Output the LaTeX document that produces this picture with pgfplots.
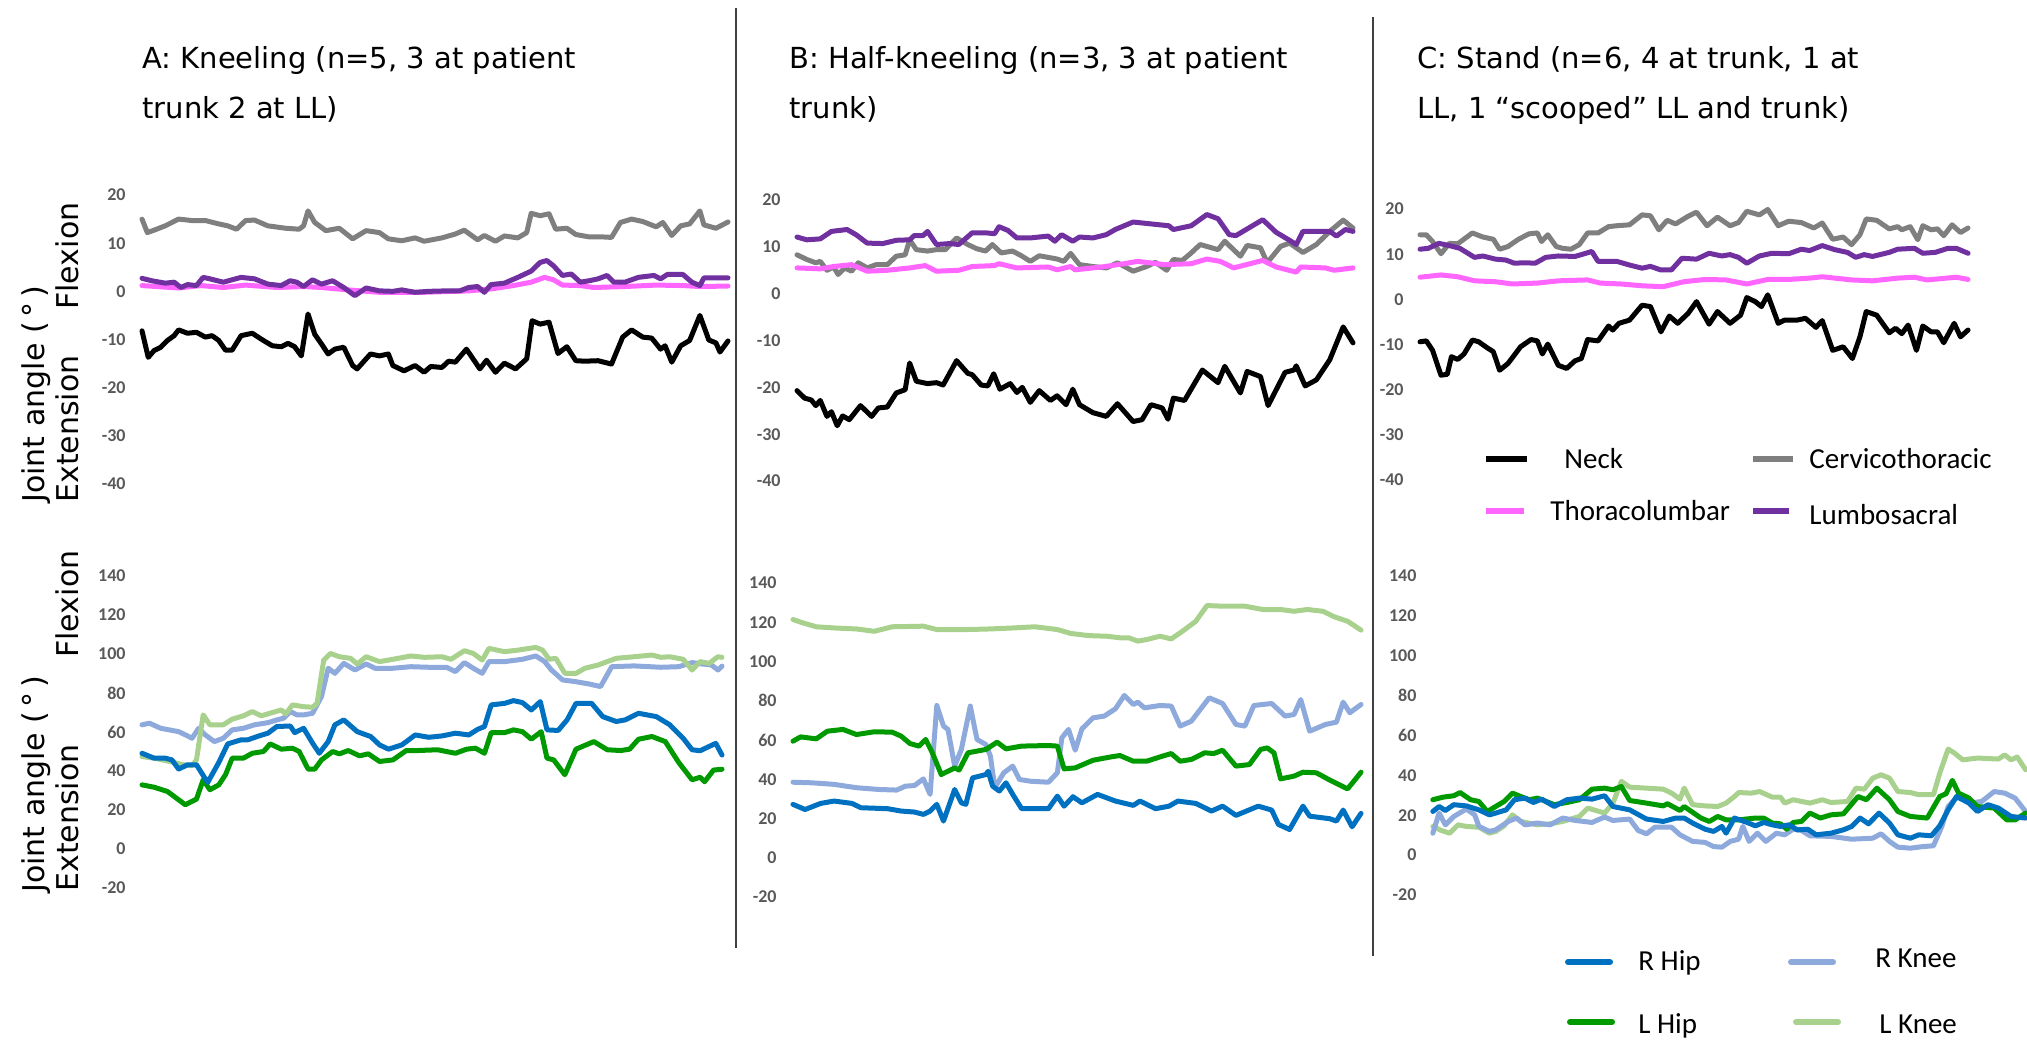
\documentclass[border=0pt]{standalone}
\usepackage{fontspec}
\usepackage{pgfplots}
\pgfplotsset{compat=1.18}
\setmainfont{DejaVu Sans}
\newfontfamily\calibri{Carlito}
\definecolor{tickgray}{HTML}{595959}
\definecolor{sepgray}{HTML}{404040}
\definecolor{neck}{HTML}{000000}
\definecolor{cerv}{HTML}{7F7F7F}
\definecolor{thor}{HTML}{FF66FF}
\definecolor{lumb}{HTML}{7030A0}
\definecolor{rhip}{HTML}{0070C0}
\definecolor{rknee}{HTML}{8EA9DB}
\definecolor{lhip}{HTML}{009900}
\definecolor{lknee}{HTML}{A9D18E}
\newcommand\titlefont{\fontsize{14.5}{16}\selectfont}
\newcommand\labfont{\fontsize{15}{17}\selectfont}
\newcommand\legfont{\calibri\fontsize{14.5}{16}\selectfont}
\pgfplotsset{
 panel/.style={scale only axis, anchor=south west, enlargelimits=false,
  axis x line=none, axis y line*=left, y axis line style={draw=none},
  major tick length=0pt, clip=false,
  yticklabel style={font=\calibri\bfseries\fontsize{9}{10}\selectfont, text=tickgray, anchor=east, inner sep=0pt, xshift=-8pt},
  every axis plot/.append style={line width=2.5pt, line join=round, line cap=round, mark=none}},
 toppanel/.style={ymin=-40,ymax=20,ytick={-40,-30,-20,-10,0,10,20}, yticklabels={-40,-30,-20,-10,0,10,20}},
 botpanel/.style={ymin=-20,ymax=140,ytick={-20,0,20,40,60,80,100,120,140}, yticklabels={-20,0,20,40,60,80,100,120,140}},
}
\begin{document}
\begin{tikzpicture}
\path[use as bounding box] (0,0) rectangle (1013.5pt,-520pt);

% ---------- A top ----------
\begin{axis}[panel, toppanel, at={(71pt,-242pt)}, width=293pt, height=144.5pt, xmin=318, xmax=1631]
\addplot[cerv] coordinates {(318,15.0)(330,12.2)(345,12.7)(370,13.6)(400,15.0)(430,14.7)(460,14.7)(490,14.0)(510,13.6)(530,12.9)(550,14.7)(570,14.8)(600,13.6)(640,13.1)(670,12.9)(680,13.6)(690,16.7)(705,14.3)(730,12.6)(760,13.1)(790,10.9)(820,12.6)(850,12.2)(870,10.9)(900,10.5)(930,11.1)(950,10.4)(990,11.1)(1020,11.9)(1040,12.7)(1070,10.7)(1085,11.6)(1110,10.4)(1130,11.5)(1160,11.1)(1180,12.2)(1190,16.2)(1210,15.7)(1230,16.1)(1245,12.9)(1270,13.1)(1290,11.8)(1320,11.3)(1350,11.3)(1370,11.2)(1390,14.3)(1415,15.0)(1440,14.5)(1470,13.4)(1485,14.3)(1505,11.6)(1525,13.6)(1545,14.0)(1568,16.7)(1577,13.8)(1604,13.1)(1631,14.4)};
\addplot[thor] coordinates {(318,1.2)(400,0.7)(450,1.2)(500,0.8)(550,1.3)(620,0.8)(680,1.0)(720,0.8)(780,0.3)(850,-0.2)(950,-0.2)(1050,0.1)(1100,0.5)(1150,1.2)(1190,1.9)(1220,2.9)(1240,2.4)(1260,1.3)(1300,1.2)(1330,0.8)(1400,1.0)(1470,1.3)(1530,1.2)(1568,1.0)(1631,1.1)};
\addplot[lumb] coordinates {(318,2.7)(340,2.2)(370,1.7)(390,1.9)(405,0.8)(420,1.4)(440,1.2)(455,2.9)(470,2.6)(500,1.9)(540,2.9)(570,2.6)(600,1.5)(630,1.2)(650,2.2)(665,1.9)(680,1.0)(700,2.4)(720,1.5)(745,2.2)(770,0.8)(795,-0.9)(820,0.7)(850,0.1)(880,0)(900,0.3)(930,-0.2)(960,0)(1000,0.1)(1030,0.1)(1050,0.8)(1070,1.0)(1085,-0.2)(1100,1.4)(1130,1.7)(1160,2.9)(1190,4.2)(1210,6.0)(1225,6.4)(1240,5.3)(1260,3.3)(1280,3.6)(1300,1.9)(1320,2.2)(1340,2.6)(1360,3.3)(1375,1.9)(1400,1.9)(1430,2.9)(1465,3.3)(1480,2.6)(1495,3.5)(1530,3.5)(1550,1.9)(1568,1.2)(1577,2.8)(1631,2.8)};
\addplot[neck] coordinates {(318,-8.2)(332,-13.7)(345,-12.3)(360,-11.6)(375,-10.2)(390,-9.2)(400,-8.0)(420,-8.7)(440,-8.5)(460,-9.5)(475,-9.2)(490,-10.2)(505,-12.2)(520,-12.2)(540,-9.2)(565,-8.7)(590,-10.2)(610,-11.3)(630,-11.5)(645,-10.8)(660,-11.5)(675,-13.4)(690,-4.7)(705,-8.9)(720,-10.9)(735,-13.0)(750,-12.0)(770,-11.6)(790,-15.4)(800,-16.1)(830,-13.0)(850,-13.4)(870,-13.0)(880,-15.4)(905,-16.5)(930,-15.4)(950,-16.8)(965,-15.6)(990,-15.8)(1005,-14.5)(1020,-14.7)(1045,-12.0)(1075,-16.1)(1090,-14.3)(1110,-16.8)(1130,-14.9)(1155,-16.1)(1180,-14.0)(1192,-6.1)(1210,-6.8)(1230,-6.4)(1250,-12.9)(1270,-11.5)(1290,-14.4)(1310,-14.5)(1340,-14.4)(1370,-15.1)(1395,-9.5)(1415,-8.0)(1440,-9.5)(1460,-9.7)(1480,-12.0)(1490,-11.3)(1505,-14.7)(1525,-11.3)(1545,-10.2)(1568,-5.0)(1588,-10.1)(1604,-10.7)(1613,-12.6)(1631,-10.3)};
\end{axis}

% ---------- B top ----------
\begin{axis}[panel, toppanel, at={(398.5pt,-240.5pt)}, width=278pt, height=140.5pt, xmin=218, xmax=1462]
\addplot[cerv] coordinates {(218,8.3)(240,7.3)(260,6.6)(270,6.9)(285,5.0)(300,5.7)(310,4.1)(325,5.5)(340,4.8)(355,6.6)(375,5.5)(395,6.2)(420,6.2)(440,8.0)(460,8.3)(470,11.5)(485,9.4)(510,9.1)(530,9.4)(550,9.4)(575,11.9)(600,10.5)(620,9.6)(640,9.1)(655,10.5)(675,8.7)(700,9.1)(720,8.1)(740,6.9)(760,8.1)(800,7.4)(815,6.9)(830,8.6)(850,6.2)(880,5.8)(910,5.5)(935,6.6)(970,4.8)(1000,5.8)(1020,6.7)(1045,5.0)(1060,7.3)(1080,7.1)(1100,8.7)(1120,10.5)(1160,9.4)(1175,11.2)(1210,8.0)(1225,10.3)(1255,9.8)(1270,6.6)(1300,10.1)(1320,10.8)(1350,8.8)(1380,10.5)(1410,13.3)(1440,15.7)(1462,14.0)};
\addplot[thor] coordinates {(218,5.5)(270,5.3)(300,5.8)(340,6.2)(375,4.8)(420,5.0)(470,5.5)(505,6.0)(530,4.8)(580,5.0)(610,5.8)(660,6.0)(670,6.4)(710,5.5)(780,5.7)(800,5.1)(830,5.8)(840,5.1)(900,5.7)(950,6.4)(980,6.9)(1040,6.2)(1100,6.4)(1135,7.4)(1165,6.9)(1195,5.5)(1260,7.1)(1290,5.7)(1335,4.6)(1345,5.7)(1400,5.5)(1420,5.0)(1462,5.5)};
\addplot[lumb] coordinates {(218,12.1)(240,11.5)(270,11.7)(295,13.3)(330,13.7)(350,12.6)(375,10.8)(410,10.7)(440,11.4)(470,11.5)(480,12.4)(500,12.4)(510,13.3)(530,10.5)(560,10.7)(580,10.5)(610,13.0)(640,13.0)(660,12.8)(670,14.3)(690,13.5)(710,11.9)(740,11.9)(780,12.3)(795,11.2)(810,12.6)(835,11.2)(850,12.1)(880,11.9)(910,12.6)(930,13.7)(970,15.3)(1000,15.0)(1050,14.5)(1060,13.7)(1100,14.5)(1135,16.9)(1160,16.0)(1185,12.6)(1200,12.4)(1260,15.8)(1290,13.1)(1320,11.4)(1335,10.5)(1350,13.3)(1410,13.3)(1425,12.3)(1445,13.7)(1462,13.3)};
\addplot[neck] coordinates {(218,-20.7)(235,-22.3)(250,-22.7)(260,-23.9)(270,-22.8)(285,-26.2)(295,-25.2)(308,-28.2)(320,-26.1)(335,-26.9)(360,-23.9)(385,-26.2)(400,-24.4)(420,-24.2)(440,-21.2)(460,-20.5)(470,-14.8)(485,-18.7)(510,-19.2)(530,-19.0)(545,-19.5)(575,-14.3)(600,-17.0)(610,-17.3)(630,-19.5)(645,-19.7)(658,-17.1)(672,-20.4)(695,-19.2)(710,-21.1)(722,-20.0)(740,-23.2)(760,-20.7)(785,-22.8)(800,-21.8)(820,-23.7)(835,-20.4)(850,-23.7)(880,-25.4)(910,-26.2)(935,-23.5)(970,-27.3)(990,-26.9)(1010,-23.7)(1035,-24.4)(1048,-26.8)(1060,-22.3)(1085,-22.8)(1125,-16.3)(1160,-19.0)(1175,-15.5)(1210,-21.2)(1225,-16.6)(1255,-17.7)(1272,-23.9)(1310,-16.8)(1330,-16.3)(1335,-15.4)(1355,-19.7)(1380,-18.4)(1410,-14.1)(1440,-7.1)(1462,-10.5)};
\end{axis}

% ---------- C top ----------
\begin{axis}[panel, toppanel, at={(710pt,-240pt)}, width=274pt, height=135.5pt, xmin=120, xmax=1428]
\addplot[cerv] coordinates {(120,14.3)(135,14.3)(150,12.8)(170,10.1)(190,12.4)(210,12.3)(245,14.7)(270,13.8)(295,13.3)(310,11.1)(330,11.7)(355,13.3)(380,14.5)(400,14.7)(410,12.8)(425,14.3)(445,11.7)(460,11.3)(480,11.1)(500,12.1)(520,14.7)(545,14.7)(570,16.1)(590,16.3)(620,16.5)(650,18.7)(670,18.5)(690,15.4)(710,17.5)(730,16.7)(760,18.4)(780,19.3)(805,16.3)(830,18.2)(860,16.3)(880,17.0)(900,19.5)(930,18.7)(950,19.9)(975,16.3)(1000,17.3)(1030,17.0)(1060,15.8)(1080,16.9)(1105,13.3)(1130,13.8)(1150,12.1)(1170,14.3)(1185,17.8)(1210,17.5)(1240,15.6)(1260,16.1)(1270,15.4)(1290,16.1)(1308,13.2)(1320,16.3)(1340,15.4)(1355,15.6)(1370,14.1)(1390,16.5)(1410,14.8)(1428,15.8)};
\addplot[thor] coordinates {(120,4.9)(170,5.4)(210,5.0)(250,4.1)(300,3.9)(340,3.4)(400,3.6)(450,4.1)(520,4.3)(550,3.6)(600,3.4)(650,3.0)(700,2.8)(750,3.9)(800,4.4)(850,4.3)(900,3.4)(950,4.4)(1000,4.4)(1050,4.7)(1080,5.0)(1150,4.3)(1200,4.1)(1260,4.7)(1300,4.9)(1330,4.3)(1400,4.9)(1428,4.4)};
\addplot[lumb] coordinates {(120,11.1)(140,11.3)(165,12.4)(190,11.9)(215,11.3)(250,9.3)(270,9.6)(300,8.9)(325,8.7)(345,8.0)(370,8.1)(395,8.0)(420,9.3)(450,9.6)(490,9.5)(505,9.9)(530,10.6)(545,8.4)(590,8.4)(620,7.6)(650,6.9)(670,7.3)(695,6.5)(720,6.5)(745,9.1)(780,8.9)(810,10.2)(840,9.6)(860,9.9)(880,9.3)(900,8.0)(930,9.6)(960,10.2)(1000,10.1)(1030,11.1)(1050,10.8)(1080,11.9)(1110,11.0)(1140,10.4)(1160,9.3)(1180,9.9)(1200,9.5)(1240,10.4)(1260,11.1)(1300,11.3)(1320,10.2)(1350,10.4)(1380,11.3)(1400,11.3)(1428,10.2)};
\addplot[neck] coordinates {(120,-9.4)(135,-9.2)(150,-11.3)(170,-16.8)(185,-16.6)(195,-12.7)(210,-13.3)(225,-12.1)(245,-9.0)(260,-9.4)(280,-10.7)(295,-11.6)(310,-15.7)(330,-14.2)(360,-10.5)(385,-8.9)(400,-9.2)(412,-12.1)(425,-9.9)(450,-14.6)(470,-15.3)(490,-13.6)(505,-13.1)(520,-8.9)(545,-9.2)(570,-5.9)(580,-6.8)(595,-5.3)(620,-4.6)(650,-1.3)(670,-1.6)(695,-7.2)(715,-3.7)(735,-5.3)(760,-3.1)(780,-0.5)(810,-5.5)(830,-2.7)(860,-5.3)(885,-3.5)(900,0.4)(920,-0.5)(935,-1.6)(950,1.0)(975,-5.3)(990,-4.6)(1020,-4.6)(1040,-4.2)(1065,-6.2)(1080,-4.7)(1105,-11.3)(1130,-10.5)(1152,-13.1)(1170,-8.3)(1185,-2.7)(1210,-3.5)(1240,-7.4)(1255,-6.4)(1270,-7.6)(1285,-5.7)(1305,-11.3)(1320,-5.9)(1340,-7.2)(1355,-7.2)(1370,-9.6)(1395,-5.3)(1410,-8.3)(1428,-6.8)};
\end{axis}

% ---------- A bottom ----------
\begin{axis}[panel, botpanel, at={(71pt,-444pt)}, width=290pt, height=156pt, xmin=318, xmax=1617]
\addplot[rknee] coordinates {(318,63.7)(335,64.5)(360,61.9)(400,60.2)(420,58.0)(430,56.8)(445,61.9)(460,58.5)(480,55.1)(500,56.8)(520,61.1)(545,61.9)(570,63.7)(600,64.8)(620,66.2)(635,67.1)(650,70.5)(665,68.8)(680,68.8)(700,69.6)(720,78.2)(735,92.7)(750,90.1)(770,95.2)(795,91.8)(820,94.9)(840,92.7)(880,92.7)(920,93.5)(960,93.2)(1000,93.2)(1020,91.0)(1040,95.6)(1060,92.7)(1080,90.1)(1095,96.1)(1130,96.1)(1170,97.3)(1200,99.0)(1220,96.1)(1235,91.8)(1260,86.7)(1290,85.8)(1320,84.6)(1345,83.3)(1370,93.5)(1420,93.9)(1480,93.2)(1520,93.5)(1550,95.6)(1568,95.0)(1593,94.4)(1608,91.8)(1617,93.8)};
\addplot[lknee] coordinates {(318,47.4)(345,46.6)(380,44.9)(410,43.2)(430,42.7)(440,45.7)(455,68.8)(470,63.7)(500,63.7)(520,66.6)(545,68.3)(565,70.5)(585,68.3)(610,70.0)(630,71.3)(640,69.3)(655,73.9)(680,73.0)(700,72.7)(710,74.7)(725,96.9)(740,100.3)(760,98.6)(785,97.8)(800,94.9)(820,98.6)(850,96.1)(880,97.3)(920,99.0)(950,98.3)(990,98.6)(1010,97.3)(1040,101.7)(1060,100.3)(1080,96.9)(1095,102.9)(1130,101.2)(1160,102.0)(1200,103.4)(1215,102.0)(1230,97.3)(1245,97.8)(1265,90.1)(1290,90.1)(1310,92.7)(1340,94.4)(1380,97.8)(1420,98.6)(1460,99.5)(1480,98.3)(1500,98.6)(1530,97.3)(1550,91.8)(1568,96.1)(1588,95.2)(1608,98.6)(1617,98.3)};
\addplot[lhip] coordinates {(318,32.9)(345,31.7)(375,29.5)(395,26.1)(415,22.7)(440,25.6)(455,35.5)(470,30.4)(490,32.9)(505,38.1)(520,46.6)(545,46.6)(565,49.1)(590,50.0)(605,53.9)(630,51.2)(655,51.7)(670,50.0)(690,41.0)(705,41.0)(720,45.7)(745,50.0)(760,48.8)(780,50.5)(805,47.8)(825,48.8)(850,44.9)(880,45.7)(910,50.5)(935,50.5)(980,50.9)(1020,49.1)(1045,51.2)(1065,51.7)(1085,49.1)(1100,59.7)(1130,59.7)(1150,61.1)(1170,60.2)(1190,56.3)(1212,60.2)(1225,46.6)(1240,45.7)(1265,38.1)(1290,51.2)(1330,55.1)(1360,50.9)(1390,50.5)(1410,51.2)(1430,56.3)(1460,57.7)(1490,55.1)(1520,44.4)(1550,35.5)(1568,36.8)(1578,34.5)(1598,40.5)(1617,40.9)};
\addplot[rhip] coordinates {(318,49.1)(345,46.6)(370,46.6)(385,45.7)(400,41.0)(420,43.2)(440,43.2)(465,34.1)(490,44.4)(510,53.9)(540,56.0)(555,56.0)(580,58.0)(600,59.4)(620,62.8)(650,63.1)(660,59.7)(680,61.9)(700,54.3)(715,49.1)(735,55.1)(750,63.7)(770,66.2)(800,60.2)(830,57.7)(850,53.4)(870,51.2)(900,53.4)(930,58.5)(960,57.3)(990,58.0)(1020,59.4)(1050,58.5)(1070,61.4)(1085,62.8)(1100,73.9)(1130,74.7)(1150,76.1)(1170,75.1)(1190,71.3)(1210,75.6)(1225,61.1)(1250,60.8)(1270,66.2)(1290,74.7)(1325,74.7)(1350,67.9)(1380,65.4)(1400,66.2)(1430,69.6)(1470,67.9)(1500,63.7)(1530,56.8)(1550,50.9)(1568,50.4)(1603,54.2)(1617,48.2)};
\end{axis}

% ---------- B bottom ----------
\begin{axis}[panel, botpanel, at={(396.5pt,-448.5pt)}, width=284pt, height=157pt, xmin=208, xmax=1480]
\addplot[lknee] coordinates {(208,121.4)(230,119.7)(260,117.7)(300,117.1)(350,116.6)(390,115.4)(430,117.7)(500,118.0)(530,116.3)(600,116.3)(650,116.6)(700,117.1)(750,117.7)(800,116.3)(830,114.3)(870,113.2)(910,112.9)(940,112.1)(960,112.1)(980,110.4)(1000,111.2)(1030,112.9)(1055,111.5)(1080,115.4)(1110,120.5)(1135,128.5)(1170,128.2)(1220,128.2)(1260,126.5)(1300,126.5)(1330,125.6)(1360,126.5)(1395,125.6)(1420,122.8)(1450,120.5)(1480,116.0)};
\addplot[rknee] coordinates {(208,38.5)(250,38.2)(300,37.4)(350,35.7)(400,34.8)(440,34.5)(460,36.5)(480,36.8)(500,40.2)(515,32.3)(530,77.6)(545,67.1)(555,65.4)(570,46.7)(585,55.2)(605,77.3)(620,60.3)(640,57.7)(650,51.8)(660,35.7)(680,43.3)(700,46.7)(715,39.9)(740,39.0)(780,38.5)(800,43.3)(810,61.1)(825,65.4)(840,54.8)(855,65.7)(880,71.3)(905,72.2)(930,75.9)(950,82.7)(970,78.1)(980,79.3)(995,76.4)(1030,77.6)(1055,77.3)(1075,67.1)(1100,69.6)(1140,81.5)(1170,78.6)(1200,67.9)(1220,67.1)(1240,77.6)(1280,78.6)(1310,72.2)(1330,73.0)(1345,80.6)(1365,64.5)(1400,67.9)(1425,69.1)(1440,79.3)(1455,73.9)(1480,78.1)};
\addplot[lhip] coordinates {(208,59.4)(225,61.6)(260,60.6)(285,64.5)(320,65.4)(350,62.8)(390,64.2)(430,64.0)(450,62.0)(470,58.2)(490,56.9)(505,60.3)(520,53.5)(540,42.4)(570,45.8)(580,44.7)(600,53.5)(640,55.2)(665,58.9)(685,55.5)(720,56.9)(780,57.2)(800,56.9)(815,45.3)(840,45.8)(880,49.7)(920,51.4)(940,52.1)(970,49.2)(1000,49.2)(1030,51.4)(1055,53.1)(1075,49.2)(1100,50.1)(1130,53.5)(1150,53.1)(1170,54.8)(1200,46.7)(1230,47.5)(1255,55.2)(1270,56.0)(1285,53.5)(1300,40.2)(1330,41.6)(1350,43.6)(1380,43.3)(1410,39.6)(1450,35.1)(1480,43.6)};
\addplot[rhip] coordinates {(208,27.2)(235,24.6)(270,27.7)(300,28.9)(340,27.7)(360,25.5)(420,25.0)(450,23.8)(480,23.3)(500,22.1)(515,23.8)(530,27.2)(545,18.7)(570,34.8)(585,28.0)(595,27.2)(610,40.7)(640,42.4)(645,44.1)(655,36.5)(670,34.0)(685,38.2)(700,32.3)(720,25.0)(780,25.0)(800,31.4)(815,26.3)(835,31.1)(855,28.0)(890,32.3)(930,28.9)(970,26.7)(985,28.9)(1020,25.0)(1050,26.3)(1070,28.9)(1110,27.7)(1145,23.8)(1170,26.3)(1200,21.6)(1250,26.3)(1280,24.3)(1295,17.0)(1320,14.4)(1350,26.3)(1365,21.2)(1410,19.9)(1425,18.7)(1440,24.3)(1460,15.8)(1480,22.6)};
\end{axis}

% ---------- C bottom ----------
\begin{axis}[panel, botpanel, at={(716.4pt,-447.5pt)}, width=296.4pt, height=159.5pt, xmin=150, xmax=1565]
\addplot[lknee] coordinates {(150,14.4)(170,12.4)(190,11.0)(210,15.2)(230,14.4)(260,14.0)(285,11.0)(300,11.9)(320,14.7)(340,20.2)(360,16.9)(400,15.2)(430,15.7)(460,16.9)(500,19.4)(520,23.6)(560,21.1)(580,26.1)(600,37.0)(620,34.1)(660,33.6)(700,33.1)(720,31.1)(740,28.1)(750,33.6)(770,25.3)(800,24.7)(830,24.4)(850,26.1)(870,29.4)(880,31.4)(910,31.1)(930,31.9)(960,29.1)(980,29.1)(990,26.1)(1010,27.8)(1050,26.1)(1080,27.8)(1100,26.4)(1140,26.9)(1160,33.6)(1180,33.1)(1200,38.6)(1220,40.3)(1240,38.6)(1260,31.9)(1290,31.4)(1310,30.3)(1345,30.3)(1360,41.1)(1380,53.2)(1395,51.2)(1415,47.8)(1450,48.7)(1500,48.2)(1515,50.3)(1530,47.8)(1545,49.2)(1565,42.8)};
\addplot[rknee] coordinates {(150,11.0)(165,21.1)(180,15.2)(200,19.4)(230,23.1)(250,20.2)(260,14.4)(285,11.9)(300,12.7)(330,16.9)(350,18.6)(370,15.2)(400,16.1)(430,15.2)(460,18.6)(490,17.4)(530,16.4)(560,19.1)(580,17.4)(620,18.1)(640,12.4)(660,10.7)(680,14.0)(720,14.0)(740,10.2)(770,6.9)(800,6.4)(820,4.3)(840,4.0)(860,6.9)(880,8.0)(890,14.4)(905,6.9)(925,11.0)(945,6.9)(970,11.0)(990,10.2)(1010,13.0)(1030,12.4)(1050,9.7)(1100,9.4)(1150,8.0)(1200,8.5)(1220,10.7)(1240,6.9)(1260,4.0)(1290,3.5)(1320,4.3)(1345,4.7)(1365,14.4)(1380,24.4)(1405,29.8)(1430,26.1)(1460,26.9)(1490,31.9)(1515,31.1)(1540,28.6)(1565,21.9)};
\addplot[lhip] coordinates {(150,27.8)(175,29.1)(200,29.8)(215,31.4)(240,27.8)(260,26.9)(280,21.9)(300,24.4)(320,26.9)(340,31.1)(360,29.4)(380,27.8)(400,28.6)(440,25.3)(470,26.4)(500,27.8)(530,33.1)(560,33.6)(580,32.8)(600,34.4)(620,27.4)(660,26.1)(700,24.7)(710,25.8)(740,22.4)(750,24.4)(790,18.6)(810,16.9)(830,19.4)(850,17.7)(880,17.7)(920,18.6)(940,18.6)(960,16.1)(980,15.7)(995,13.0)(1010,16.4)(1030,16.9)(1050,21.1)(1075,18.6)(1100,20.2)(1130,20.7)(1145,24.4)(1165,29.4)(1185,27.8)(1210,33.6)(1240,27.8)(1260,21.9)(1290,19.4)(1330,18.6)(1360,29.4)(1375,30.8)(1390,37.5)(1405,31.1)(1430,28.6)(1450,24.4)(1490,23.6)(1520,17.7)(1540,17.7)(1565,21.1)};
\addplot[rhip] coordinates {(150,21.9)(165,24.4)(180,22.4)(200,25.3)(230,24.7)(260,22.7)(285,20.2)(300,21.1)(325,22.7)(345,27.8)(370,28.6)(390,26.4)(410,28.1)(440,24.4)(470,27.8)(500,28.6)(530,28.1)(560,29.8)(580,24.4)(620,22.7)(660,18.1)(700,16.9)(730,18.6)(750,18.6)(770,16.1)(800,13.0)(820,11.9)(840,14.4)(850,11.0)(870,18.6)(900,16.4)(920,14.7)(940,16.4)(960,15.2)(980,14.4)(1000,15.2)(1020,12.7)(1045,13.0)(1065,10.2)(1100,11.0)(1130,12.7)(1150,14.4)(1170,18.6)(1190,15.7)(1215,21.1)(1240,16.1)(1260,10.2)(1290,8.5)(1310,10.2)(1340,9.7)(1360,14.7)(1380,22.7)(1400,29.4)(1430,26.1)(1450,21.9)(1475,25.3)(1500,23.6)(1530,19.4)(1565,18.6)};
\end{axis}

% ---------- separators ----------
\draw[line width=1pt, sepgray] (368pt,-4pt) -- (368pt,-474pt);
\draw[line width=1pt, sepgray] (686.5pt,-8.5pt) -- (686.5pt,-478pt);

% ---------- titles ----------
\node[anchor=base west, font=\titlefont, inner sep=0pt] at (71pt,-34pt) {A: Kneeling (n=5, 3 at patient};
\node[anchor=base west, font=\titlefont, inner sep=0pt] at (71pt,-59pt) {trunk 2 at LL)};
\node[anchor=base west, font=\titlefont, inner sep=0pt] at (394.5pt,-34pt) {B: Half-kneeling (n=3, 3 at patient};
\node[anchor=base west, font=\titlefont, inner sep=0pt] at (394.5pt,-59pt) {trunk)};
\node[anchor=base west, font=\titlefont, inner sep=0pt] at (708.5pt,-34pt) {C: Stand (n=6, 4 at trunk, 1 at};
\node[anchor=base west, font=\titlefont, inner sep=0pt] at (708.5pt,-59pt) {LL, 1 “scooped” LL and trunk)};

% ---------- y labels ----------
\node[rotate=90, anchor=base west, font=\labfont, inner sep=0pt] at (22pt,-251.5pt) {Joint angle (\,°\,)};
\node[rotate=90, anchor=base west, font=\labfont, inner sep=0pt] at (39pt,-251.5pt) {Extension};
\node[rotate=90, anchor=base west, font=\labfont, inner sep=0pt] at (39pt,-155pt) {Flexion};
\node[rotate=90, anchor=base west, font=\labfont, inner sep=0pt] at (22pt,-446.5pt) {Joint angle (\,°\,)};
\node[rotate=90, anchor=base west, font=\labfont, inner sep=0pt] at (39pt,-446pt) {Extension};
\node[rotate=90, anchor=base west, font=\labfont, inner sep=0pt] at (39pt,-329pt) {Flexion};

% ---------- legends ----------
\draw[line width=3pt, neck] (743pt,-229.5pt) -- (763.5pt,-229.5pt);
\node[anchor=base west, font=\legfont, inner sep=0pt] at (782pt,-234pt) {Neck};
\draw[line width=3pt, cerv] (876.5pt,-229.5pt) -- (896.5pt,-229.5pt);
\node[anchor=base west, font=\legfont, inner sep=0pt] at (904.5pt,-234pt) {Cervicothoracic};
\draw[line width=3pt, thor] (743pt,-255.5pt) -- (762pt,-255.5pt);
\node[anchor=base west, font=\legfont, inner sep=0pt] at (775pt,-260pt) {Thoracolumbar};
\draw[line width=3pt, lumb] (876.5pt,-255.5pt) -- (894.5pt,-255.5pt);
\node[anchor=base west, font=\legfont, inner sep=0pt] at (904.5pt,-262pt) {Lumbosacral};

\draw[line width=3pt, rhip, line cap=round] (784pt,-481pt) -- (805pt,-481pt);
\node[anchor=base west, font=\legfont, inner sep=0pt] at (819pt,-485pt) {R Hip};
\draw[line width=3pt, rknee, line cap=round] (895.5pt,-481pt) -- (916.5pt,-481pt);
\node[anchor=base west, font=\legfont, inner sep=0pt] at (937.5pt,-483.5pt) {R Knee};
\draw[line width=3pt, lhip, line cap=round] (785pt,-511pt) -- (806pt,-511pt);
\node[anchor=base west, font=\legfont, inner sep=0pt] at (819pt,-516.5pt) {L Hip};
\draw[line width=3pt, lknee, line cap=round] (898pt,-511pt) -- (919pt,-511pt);
\node[anchor=base west, font=\legfont, inner sep=0pt] at (939.5pt,-516.5pt) {L Knee};
\end{tikzpicture}
\end{document}
